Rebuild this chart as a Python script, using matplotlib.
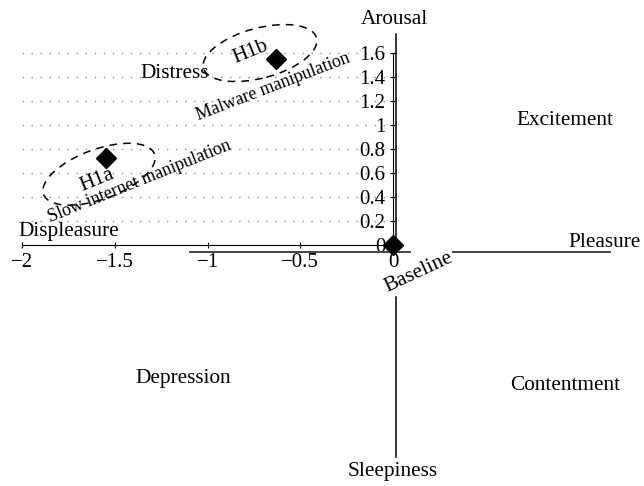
import matplotlib
matplotlib.use("Agg")
import matplotlib.pyplot as plt
from matplotlib.patches import Ellipse
from matplotlib.transforms import ScaledTranslation

plt.rcParams['font.family'] = ['Liberation Serif', 'DejaVu Serif']

# data
names = ['Baseline', 'H1a', 'H1b']
pleasure = [0.0, -1.55, -0.63]
arousal = [0.0, 0.725, 1.55]
xticks = [-2, -1.5, -1, -0.5, 0]
yticks = [0, 0.2, 0.4, 0.6, 0.8, 1, 1.2, 1.4, 1.6]
ytick_labels = ['0', '0.2', '0.4', '0.6', '0.8', '1', '1.2', '1.4', '1.6']

fig = plt.figure(figsize=(6.44, 4.86), dpi=100)
ax = fig.add_axes([0, 0, 1, 1])
ax.set_xlim(-2.119, 1.353)
ax.set_ylim(-2.008, 2.042)

# spines through the origin
for s in ['top', 'right']:
    ax.spines[s].set_visible(False)
ax.spines['left'].set_position(('data', 0))
ax.spines['bottom'].set_position(('data', 0))
ax.spines['left'].set_bounds(0, 1.6)
ax.spines['bottom'].set_bounds(-2, 0)
ax.set_xticks(xticks)
ax.set_xticklabels([str(t).replace('-', '\u2212') for t in xticks])
ax.set_yticks(yticks)
ax.set_yticklabels(ytick_labels)
ax.tick_params(direction='inout', length=4, width=0.8, labelsize=15)
ax.tick_params(axis='y', pad=3.5)
ax.tick_params(axis='x', pad=4)

# dotted grid
ax.hlines(yticks[1:], -2, 0, colors='#8a8a8a', linewidth=1.0, linestyles=(0, (1, 5.5)), zorder=0)

# circumplex cross
ax.plot([0.016, 0.016], [1.76, -0.058], color='black', lw=1.1)
ax.plot([0.016, 0.016], [-0.433, -1.767], color='black', lw=1.1)
ax.plot([-1.094, 0.092], [-0.058, -0.058], color='#444444', lw=1.4)
ax.plot([0.323, 1.17], [-0.058, -0.058], color='#444444', lw=1.4)

# points
ax.plot(pleasure, arousal, linestyle='none', marker='D', markersize=10, color='black', zorder=5, clip_on=False)

# dashed ellipses (size in inches, centred on data coords)
def ring(cx, cy, w, h, ang):
    tr = fig.dpi_scale_trans + ScaledTranslation(cx, cy, ax.transData)
    ax.add_patch(Ellipse((0, 0), w, h, angle=ang, transform=tr, fill=False,
                         edgecolor='black', lw=1.1, linestyle=(0, (5, 4))))

ring(-0.717, 1.60, 1.17, 0.50, 15)
ring(-1.585, 0.59, 1.18, 0.50, 20)

big = 15.3
small = 13
ax.text(0.01, 1.88, 'Arousal', fontsize=big, ha='center', va='center')
ax.text(0.0, -1.89, 'Sleepiness', fontsize=big, ha='center', va='center')
ax.text(1.337, 0.025, 'Pleasure', fontsize=big, ha='right', va='center')
ax.text(-2.02, 0.11, 'Displeasure', fontsize=big, ha='left', va='center')
ax.text(0.927, 1.04, 'Excitement', fontsize=big, ha='center', va='center')
ax.text(0.927, -1.17, 'Contentment', fontsize=big, ha='center', va='center')
ax.text(-1.13, -1.11, 'Depression', fontsize=big, ha='center', va='center')
ax.text(-1.178, 1.43, 'Distress', fontsize=big, ha='center', va='center')
ax.text(-0.77, 1.61, 'H1b', fontsize=big, ha='center', va='center', rotation=22)
ax.text(-1.596, 0.54, 'H1a', fontsize=big, ha='center', va='center', rotation=22)
ax.text(-0.647, 1.32, 'Malware manipulation', fontsize=small, ha='center', va='center',
        rotation=21, rotation_mode='anchor')
ax.text(-1.369, 0.53, 'Slow internet manipulation', fontsize=small, ha='center', va='center',
        rotation=22, rotation_mode='anchor')
ax.text(0.14, -0.23, 'Baseline', fontsize=big, ha='center', va='center',
        rotation=25, rotation_mode='anchor')

fig.savefig('out.png', dpi=100)
